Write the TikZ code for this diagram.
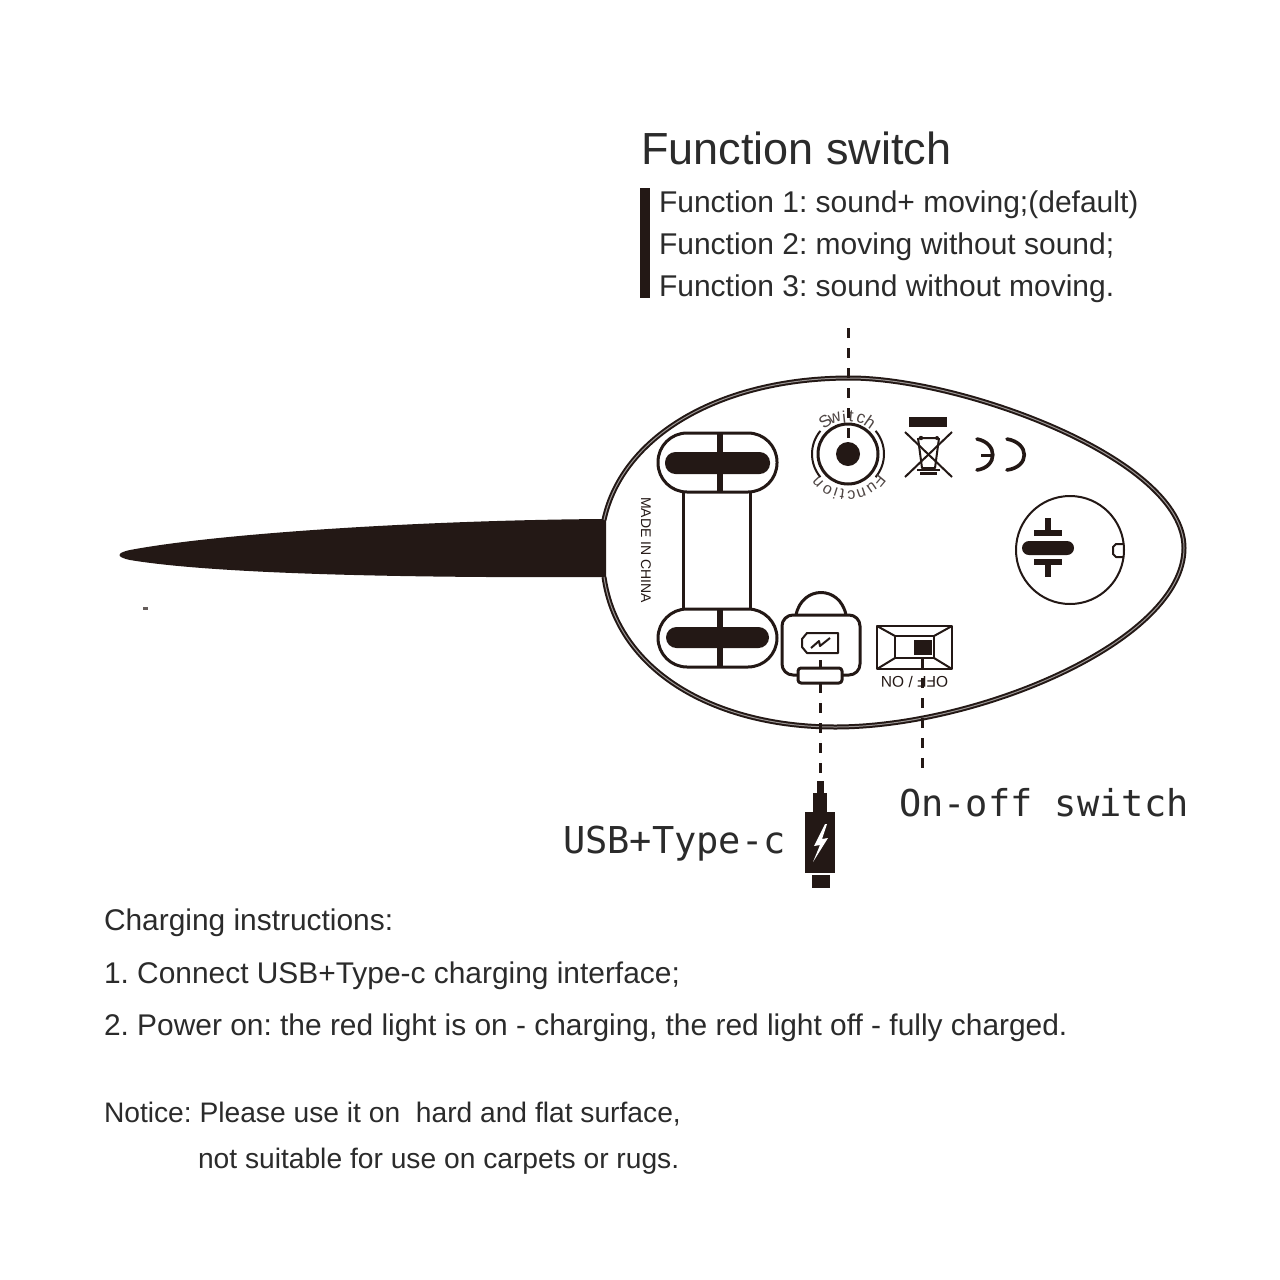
\documentclass[tikz,border=0pt]{standalone}
\usepackage{fontspec}
\setmainfont{Liberation Sans}
\newfontfamily\monofam{DejaVu Sans Mono}
\definecolor{ink}{HTML}{231815}
\definecolor{txt}{HTML}{2B2B2B}
\frenchspacing
\tikzset{
  txtnode/.style={inner sep=0pt,outer sep=0pt,anchor=base west,text=txt},
  head/.style={txtnode,font=\fontsize{45}{45}\selectfont},
  fline/.style={txtnode,font=\fontsize{30}{30}\selectfont},
  bodyline/.style={txtnode,font=\fontsize{29.9}{29.9}\selectfont},
  noteline/.style={txtnode,font=\fontsize{28.2}{28.2}\selectfont},
  monotxt/.style={txtnode,font=\monofam\fontsize{37}{37}\selectfont},
  smalltxt/.style={inner sep=0pt,text=ink,font=\fontsize{14}{14}\selectfont},
  dialtxt/.style={inner sep=0pt,text=ink!80!white},
  leader/.style={draw=ink,line width=3pt,dash pattern=on 10pt off 10pt},
  ln/.style={draw=ink,line width=3pt,line join=round},
  thin/.style={draw=ink,line width=2pt,line join=round},
  pill/.style={ln,rounded corners=29pt}
}
\begin{document}
\begin{tikzpicture}[x=1pt,y=-1pt]
\useasboundingbox (0,0) rectangle (1280,1280);
\fill[white] (0,0) rectangle (1280,1280);
% tail
\fill[ink] (606,519) .. controls (430,520) and (220,533) .. (130,550)
  .. controls (116,553) and (116,557) .. (130,560)
  .. controls (220,575) and (430,578) .. (606,577) -- cycle;
\fill[ink!70!white] (143,607) rectangle (148,610);
% egg
\path[draw=ink,line width=5pt]
  (604,520) .. controls (622,436) and (720,378) .. (850,378)
  .. controls (960,378) and (1184,458) .. (1184,548)
  .. controls (1184,640) and (980,727) .. (835,727)
  .. controls (720,727) and (618,675) .. (604,577);
\path[draw=white!55!ink,line width=1pt]
  (604,520) .. controls (622,436) and (720,378) .. (850,378)
  .. controls (960,378) and (1184,458) .. (1184,548)
  .. controls (1184,640) and (980,727) .. (835,727)
  .. controls (720,727) and (618,675) .. (604,577);
% wheels
\draw[ln] (683,492) -- (683,609) (750,492) -- (750,609);
\draw[pill] (658,433) rectangle (777,492);
\draw[pill] (658,609) rectangle (777,667);
\fill[ink,rounded corners=10.5pt] (665,452) rectangle (770,474);
\fill[ink,rounded corners=10.5pt] (666,627) rectangle (769,648);
\fill[ink] (717,433) rectangle (723,492);
\fill[ink] (717,609) rectangle (723,667);
\node[smalltxt,rotate=-90] (made) at (646,550) {MADE IN CHINA};
% function switch dial
\begin{scope}[shift={(848,454)},y=1pt]
  \draw[ln] (0,0) circle (30);
  \fill[ink] (0,0) circle (12);
  \draw[thin] (140:36) arc (140:220:36);
  \draw[thin] (40:36) arc (40:-40:36);
  \foreach \c/\a/\r [count=\i] in {S/125/40,w/110/38.5,i/96/37.5,t/85/37.5,c/70/37.5,h/55/39}
    \node[dialtxt,font=\fontsize{17}{17}\selectfont,rotate=\a-90] (sw\i) at (\a:\r) {\c};
  \foreach \c/\a [count=\i] in {F/-40,u/-55,n/-71,c/-85,t/-98,i/-108,o/-120,n/-137}
    \node[dialtxt,font=\fontsize{16}{16}\selectfont,rotate=\a-90] (fn\i) at (\a:41) {\c};
\end{scope}
\coordinate (swtop) at (848,328);
\coordinate (swend) at (848,458);
\draw[leader] (swtop) -- (swend);
% bin
\fill[ink] (909,417) rectangle (947,427);
\draw[thin] (905,432) -- (952,477) (952,432) -- (905,477);
\draw[thin] (919,438) -- (937,438) (918,438) -- (922,468) -- (935,468) -- (939,438);
\draw[thin] (917,470) -- (940,470);
\fill[ink] (921,438) circle (2.2) (937,438) circle (2);
\fill[ink] (920,472) rectangle (937,475);
% CE mirrored
\draw[line width=3.6pt,draw=ink,line cap=round] (977,439) .. controls (998,443) and (998,467) .. (977,470);
\draw[line width=3pt,draw=ink] (981,455) -- (992,455);
\draw[line width=3.6pt,draw=ink,line cap=round] (1007,439) .. controls (1030,443) and (1030,467) .. (1007,470);
% battery disc
\draw[thin] (1070,550) circle (54);
\fill[ink,rounded corners=7pt] (1022,541) rectangle (1074,555);
\fill[ink] (1034,530) rectangle (1062,536);
\fill[ink] (1045,518) rectangle (1051,530);
\fill[ink] (1034,559) rectangle (1062,565);
\fill[ink] (1045,565) rectangle (1051,577);
\draw[thin] (1124,544) -- (1116,544) -- (1113,547) -- (1113,554) -- (1116,557) -- (1124,557);
% usb port
\draw[ln] (796,615) .. controls (802,585) and (840,585) .. (846,615);
\draw[ln,rounded corners=11pt,fill=white] (798,675) -- (782,675) -- (782,615) -- (860,615) -- (860,675) -- (842,675);
\draw[ln,fill=white,rounded corners=3pt] (798,668) rectangle (842,683);
\draw[thin] (807,633) -- (838,633) -- (838,653) -- (807,653) -- (802,647) -- (802,639) -- cycle;
\draw[thin] (811,648) -- (819,641) -- (820,646) -- (830,638);
\coordinate (usbtop) at (820,660);
\coordinate (usbend) at (820,668);
\draw[ln] (usbtop) -- (usbend);
\coordinate (usbdash) at (820,683);
\coordinate (usbplug) at (820,781);
\draw[leader] (usbdash) -- (usbplug);
% power switch
\draw[thin,line width=2.5pt] (877,626) rectangle (952,669);
\draw[thin,line width=2.5pt] (895,636) rectangle (934,658);
\draw[thin] (877,626) -- (895,636) (952,626) -- (934,636) (877,669) -- (895,658) (952,669) -- (934,658);
\fill[ink] (914,640) rectangle (932,655);
\node[smalltxt,rotate=180,font=\fontsize{15.5}{15.5}\selectfont] (offon) at (914.5,682) {OFF / ON};
\coordinate (pwtop) at (922.5,658);
\coordinate (pwend) at (922.5,772);
\draw[leader] (pwtop) -- (pwend);
% plug
\fill[ink] (817,781) rectangle (824,793);
\fill[ink] (813,793) rectangle (827,812);
\fill[ink] (805,812) rectangle (835,873);
\fill[ink] (812,875) rectangle (830,888);
\fill[white] (825,824) -- (814,846) -- (820,845) -- (813,862) -- (828,838) -- (822,839) -- (827,824) -- cycle;
% left bar
\fill[ink] (640,188) rectangle (650,298);
% texts
\node[head] (t0) at (641,164) {Function switch};
\node[fline] (t1) at (659,212) {Function 1: sound+ moving;(default)};
\node[fline] (t2) at (659,254) {Function 2: moving without sound;};
\node[fline] (t3) at (659,296) {Function 3: sound without moving.};
\node[monotxt] (t4) at (899,816) {On-off switch};
\node[monotxt] (t5) at (563,853) {USB+Type-c};
\node[bodyline] (t6) at (104,930) {Charging instructions:};
\node[bodyline] (t7) at (104,983) {1. Connect USB+Type-c charging interface;};
\node[bodyline] (t8) at (104,1035) {2. Power on: the red light is on - charging, the red light off - fully charged.};
\node[noteline] (t9) at (104,1122) {Notice: Please use it on\ \ hard and flat surface,};
\node[noteline] (t10) at (198,1168) {not suitable for use on carpets or rugs.};
\end{tikzpicture}
\end{document}
